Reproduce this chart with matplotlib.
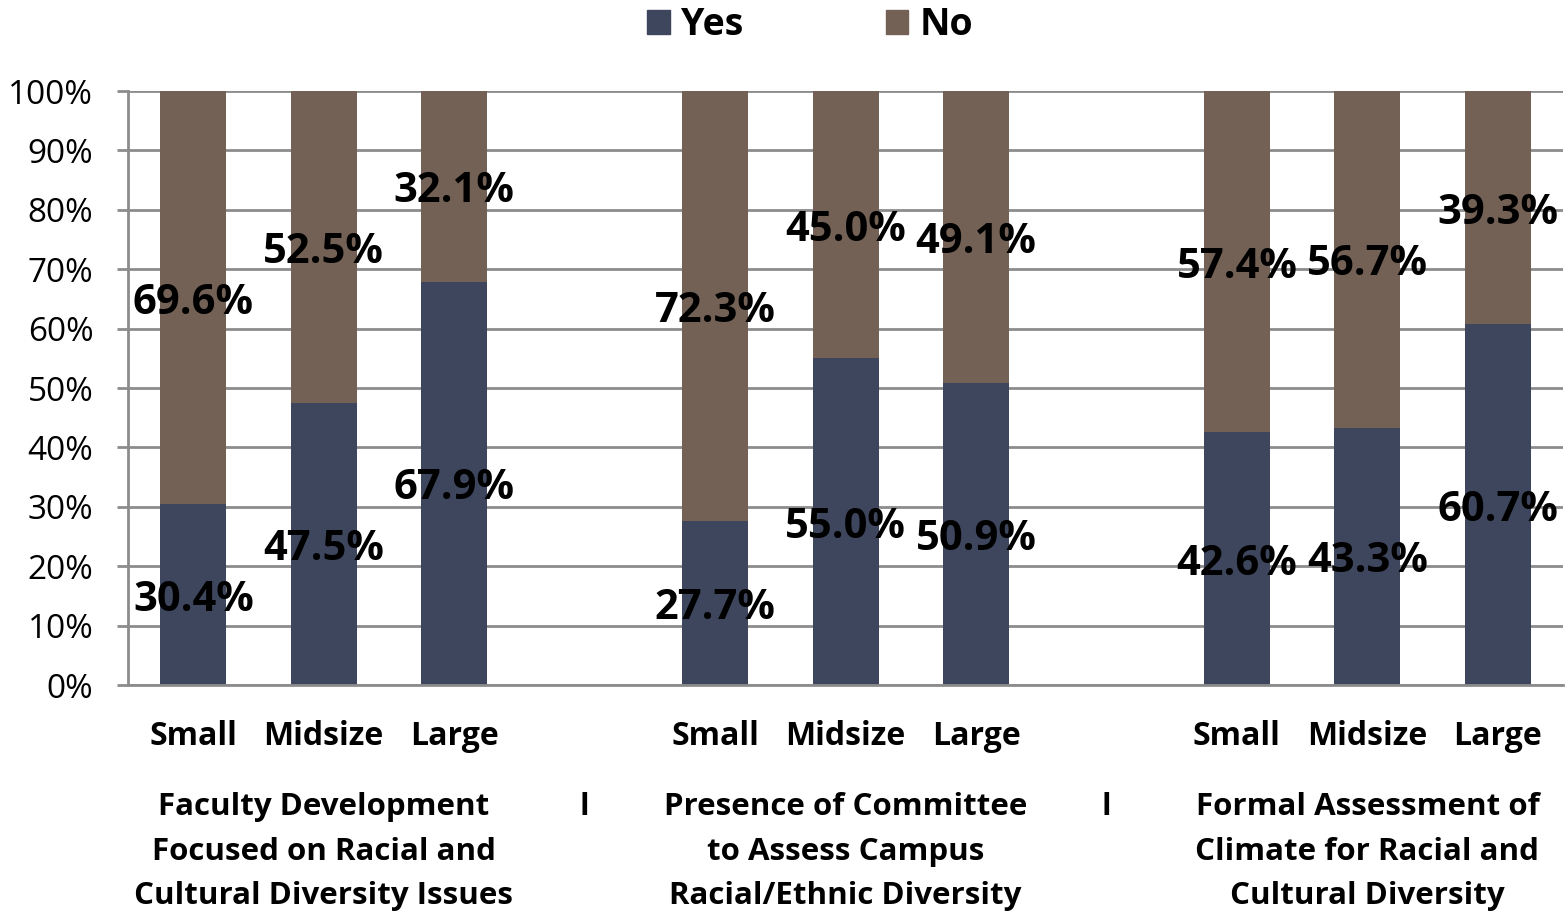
import numpy as np
import matplotlib.pyplot as plt
import matplotlib.transforms as mtransforms
from matplotlib.patches import Patch

plt.rcParams['font.family'] = ['Open Sans', 'DejaVu Sans']

sizes = ["Small", "Midsize", "Large"]
groups = ["Faculty Development\nFocused on Racial and\nCultural Diversity Issues",
          "Presence of Committee\nto Assess Campus\nRacial/Ethnic Diversity",
          "Formal Assessment of\nClimate for Racial and\nCultural Diversity"]
yes = [30.4, 47.5, 67.9, 27.7, 55.0, 50.9, 42.6, 43.3, 60.7]
no = [69.6, 52.5, 32.1, 72.3, 45.0, 49.1, 57.4, 56.7, 39.3]

yes_color = "#3d465c"
no_color = "#736155"
grid_color = "#8c8c8c"

# one empty slot between the groups
slots = [g * 4 + i for g in range(len(groups)) for i in range(len(sizes))]

fig = plt.figure(figsize=(15.67, 9.14), dpi=100)
ax = fig.add_axes([0.0817, 0.2505, 0.9158, 0.6499])

width = 0.506
ax.bar(slots, yes, width, color=yes_color, label="Yes", zorder=2)
ax.bar(slots, no, width, bottom=yes, color=no_color, label="No", zorder=2)

# value labels sit in the middle of each segment, nudged down a little
lab_trans = mtransforms.offset_copy(ax.transData, fig=fig, y=-4, units="points")
for x, y, n in zip(slots, yes, no):
    ax.text(x, y / 2, f"{y:.1f}%", ha="center", va="center", transform=lab_trans,
            fontsize=30, fontweight="bold", zorder=3)
    ax.text(x, y + n / 2, f"{n:.1f}%", ha="center", va="center", transform=lab_trans,
            fontsize=30, fontweight="bold", zorder=3)

ax.set_xlim(-0.5, 10.5)
ax.set_ylim(0, 100)
ax.set_yticks(np.arange(0, 101, 10))
ax.set_yticklabels([f"{v}%" for v in range(0, 101, 10)], fontsize=24)
ax.yaxis.grid(True, color=grid_color, linewidth=2)
ax.set_axisbelow(True)

ax.set_xticks(slots)
ax.set_xticklabels(sizes * len(groups), fontsize=23, fontweight="bold")
ax.tick_params(axis="x", length=0, pad=25.5)
ax.tick_params(axis="y", length=8, width=2, color=grid_color, pad=17)

for side in ["top", "right"]:
    ax.spines[side].set_visible(False)
for side in ["left", "bottom"]:
    ax.spines[side].set_color(grid_color)
    ax.spines[side].set_linewidth(2)

# group captions under the size labels
trans = mtransforms.blended_transform_factory(ax.transData, fig.transFigure)
for g, name in enumerate(groups):
    ax.text(g * 4 + 1, 1 - 792 / 914, name, transform=trans, ha="center",
            va="top", fontsize=22.5, fontweight="bold", linespacing=1.64)
for x in [3, 7]:
    ax.text(x, 1 - 792 / 914, "l", transform=trans, ha="center", va="top",
            fontsize=22.5, fontweight="bold")

handles = [Patch(color=yes_color, label="Yes"), Patch(color=no_color, label="No")]
fig.legend(handles=handles, loc="upper center", bbox_to_anchor=(810 / 1567, 1.01),
           ncol=2, frameon=False, prop={"size": 27, "weight": "bold"},
           borderaxespad=0, handlelength=0.6, handleheight=0.6,
           handletextpad=0.3, columnspacing=3.8)

fig.savefig("out.png", dpi=100)
